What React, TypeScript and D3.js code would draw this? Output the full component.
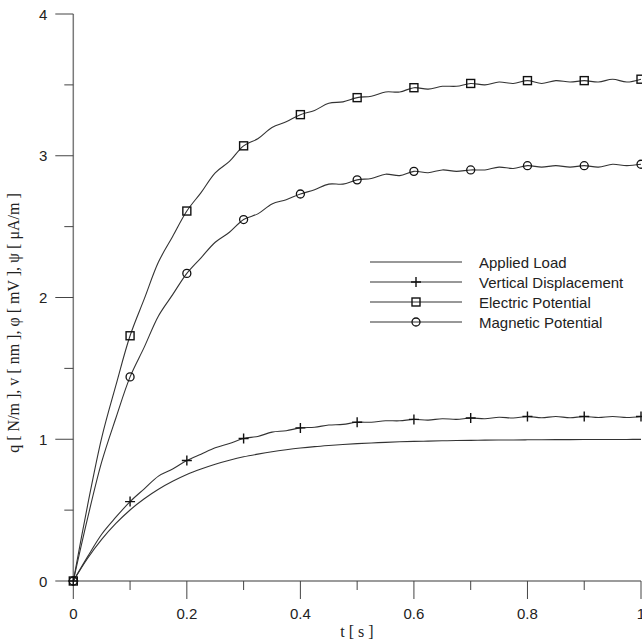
import React from 'react';
import * as d3 from 'd3';

// sample times (s)
const TIME = [
  0, 0.025, 0.05, 0.075, 0.1, 0.125, 0.15, 0.175, 0.2, 0.225, 0.25, 0.275, 0.3, 0.325,
  0.35, 0.375, 0.4, 0.425, 0.45, 0.475, 0.5, 0.525, 0.55, 0.575, 0.6, 0.625, 0.65, 0.675,
  0.7, 0.725, 0.75, 0.775, 0.8, 0.825, 0.85, 0.875, 0.9, 0.925, 0.95, 0.975, 1,
];

const APPLIED_LOAD = [
  0, 0.159, 0.293, 0.406, 0.501, 0.58, 0.647, 0.703, 0.751, 0.79, 0.824, 0.852, 0.876, 0.895,
  0.912, 0.926, 0.938, 0.948, 0.956, 0.963, 0.969, 0.974, 0.978, 0.982, 0.985, 0.987, 0.989, 0.991,
  0.992, 0.9935, 0.9945, 0.995, 0.996, 0.9967, 0.9972, 0.9976, 0.998, 0.9983, 0.9985, 0.9987, 0.999,
];

const VERTICAL_DISP = [
  0, 0.17, 0.33, 0.45, 0.56, 0.65, 0.74, 0.79, 0.85, 0.895, 0.94, 0.97, 1.005, 1.02,
  1.05, 1.06, 1.08, 1.085, 1.1, 1.105, 1.12, 1.12, 1.13, 1.13, 1.14, 1.135, 1.145, 1.14,
  1.15, 1.145, 1.155, 1.15, 1.16, 1.152, 1.16, 1.152, 1.16, 1.153, 1.16, 1.153, 1.16,
];

const ELECTRIC = [
  0, 0.53, 1.01, 1.38, 1.73, 1.99, 2.25, 2.43, 2.61, 2.74, 2.88, 2.96, 3.07, 3.12,
  3.2, 3.24, 3.29, 3.32, 3.37, 3.38, 3.41, 3.42, 3.45, 3.45, 3.48, 3.47, 3.49, 3.49,
  3.51, 3.5, 3.52, 3.51, 3.53, 3.51, 3.53, 3.52, 3.53, 3.52, 3.54, 3.52, 3.54,
];

const MAGNETIC = [
  0, 0.44, 0.84, 1.15, 1.44, 1.65, 1.87, 2.02, 2.17, 2.28, 2.39, 2.46, 2.55, 2.59,
  2.66, 2.69, 2.73, 2.76, 2.8, 2.8, 2.83, 2.84, 2.87, 2.86, 2.89, 2.88, 2.9, 2.89,
  2.9, 2.9, 2.92, 2.91, 2.93, 2.92, 2.93, 2.92, 2.93, 2.92, 2.94, 2.93, 2.94,
];

const X_TICKS = [0, 0.2, 0.4, 0.6, 0.8, 1];
const X_MINOR = [0.1, 0.3, 0.5, 0.7, 0.9];
const Y_TICKS = [0, 1, 2, 3, 4];
const Y_MINOR = [0.5, 1.5, 2.5, 3.5];

const LEGEND = ['Applied Load', 'Vertical Displacement', 'Electric Potential', 'Magnetic Potential'];

const W = 642;
const H = 643;

function Marker({ kind, x, y }: { kind: string; x: number; y: number }) {
  if (kind === 'plus') {
    return (
      <path d={`M${x - 5},${y}H${x + 5}M${x},${y - 5}V${y + 5}`} stroke="#111" strokeWidth={1.4} fill="none" />
    );
  }
  if (kind === 'square') {
    return <rect x={x - 4} y={y - 4} width={8} height={8} stroke="#111" strokeWidth={1.4} fill="none" />;
  }
  if (kind === 'circle') {
    return <circle cx={x} cy={y} r={4} stroke="#111" strokeWidth={1.3} fill="none" />;
  }
  return null;
}

export default function App() {
  const x = d3.scaleLinear().domain([0, 1]).range([73.3, 641]);
  const y = d3.scaleLinear().domain([0, 4]).range([581, 14]);

  const line = d3
    .line<number>()
    .x((_, i) => x(TIME[i]))
    .y((d) => y(d))
    .curve(d3.curveCatmullRom.alpha(0.5));

  const series = [
    { values: APPLIED_LOAD, marker: 'none' },
    { values: VERTICAL_DISP, marker: 'plus' },
    { values: ELECTRIC, marker: 'square' },
    { values: MAGNETIC, marker: 'circle' },
  ];

  const axisColor = '#7a7a7a';
  const tickColor = '#444';
  const sans = '"Liberation Sans", Arial, sans-serif';
  const serif = '"Liberation Serif", "Times New Roman", serif';

  return (
    <div style={{ position: 'absolute', left: 0, top: 0 }}>
      <svg width={W} height={H} style={{ display: 'block', background: '#fff' }}>
        {/* axes */}
        <line x1={x(0)} x2={x(0)} y1={y(4)} y2={y(0)} stroke={axisColor} strokeWidth={1.5} />
        <line x1={x(0)} x2={x(1)} y1={y(0)} y2={y(0)} stroke={axisColor} strokeWidth={1.5} />
        {Y_TICKS.map((t) => (
          <g key={'yt' + t}>
            <line x1={x(0) - 18} x2={x(0)} y1={y(t)} y2={y(t)} stroke={tickColor} strokeWidth={1} />
            <text x={x(0) - 26} y={y(t) + 5.5} textAnchor="end" fontFamily={sans} fontSize={15} fill="#222">
              {t}
            </text>
          </g>
        ))}
        {Y_MINOR.map((t) => (
          <line key={'ym' + t} x1={x(0) - 9} x2={x(0)} y1={y(t)} y2={y(t)} stroke={tickColor} strokeWidth={1} />
        ))}
        {X_TICKS.map((t) => (
          <g key={'xt' + t}>
            <line x1={x(t)} x2={x(t)} y1={y(0)} y2={y(0) + 18} stroke={tickColor} strokeWidth={1} />
            <text x={x(t)} y={619} textAnchor="middle" fontFamily={sans} fontSize={15} fill="#222">
              {t}
            </text>
          </g>
        ))}
        {X_MINOR.map((t) => (
          <line key={'xm' + t} x1={x(t)} x2={x(t)} y1={y(0)} y2={y(0) + 9} stroke={tickColor} strokeWidth={1} />
        ))}

        {/* axis titles */}
        <text x={357} y={637} textAnchor="middle" fontFamily={serif} fontSize={16} fill="#222">
          t [ s ]
        </text>
        <text
          transform="translate(19,323) rotate(-90)"
          textAnchor="middle"
          fontFamily={serif}
          fontSize={16}
          fill="#222"
        >
          q [ N/m ], v [ nm ], φ [ mV ], ψ [ μA/m ]
        </text>

        {/* curves */}
        {series.map((s, si) => (
          <path key={'s' + si} d={line(s.values) || ''} fill="none" stroke="#333" strokeWidth={1.1} />
        ))}
        {series.map((s, si) =>
          s.values.map((v, i) =>
            i % 4 === 0 ? <Marker key={'m' + si + '-' + i} kind={s.marker} x={x(TIME[i])} y={y(v)} /> : null
          )
        )}

        {/* legend */}
        {LEGEND.map((label, i) => {
          const ly = 262 + i * 20;
          return (
            <g key={'lg' + i}>
              <line x1={370} x2={462} y1={ly} y2={ly} stroke="#333" strokeWidth={1.1} />
              <Marker kind={series[i].marker} x={416} y={ly} />
              <text x={479} y={ly + 5.5} fontFamily={sans} fontSize={15} fill="#222">
                {label}
              </text>
            </g>
          );
        })}
      </svg>
    </div>
  );
}
